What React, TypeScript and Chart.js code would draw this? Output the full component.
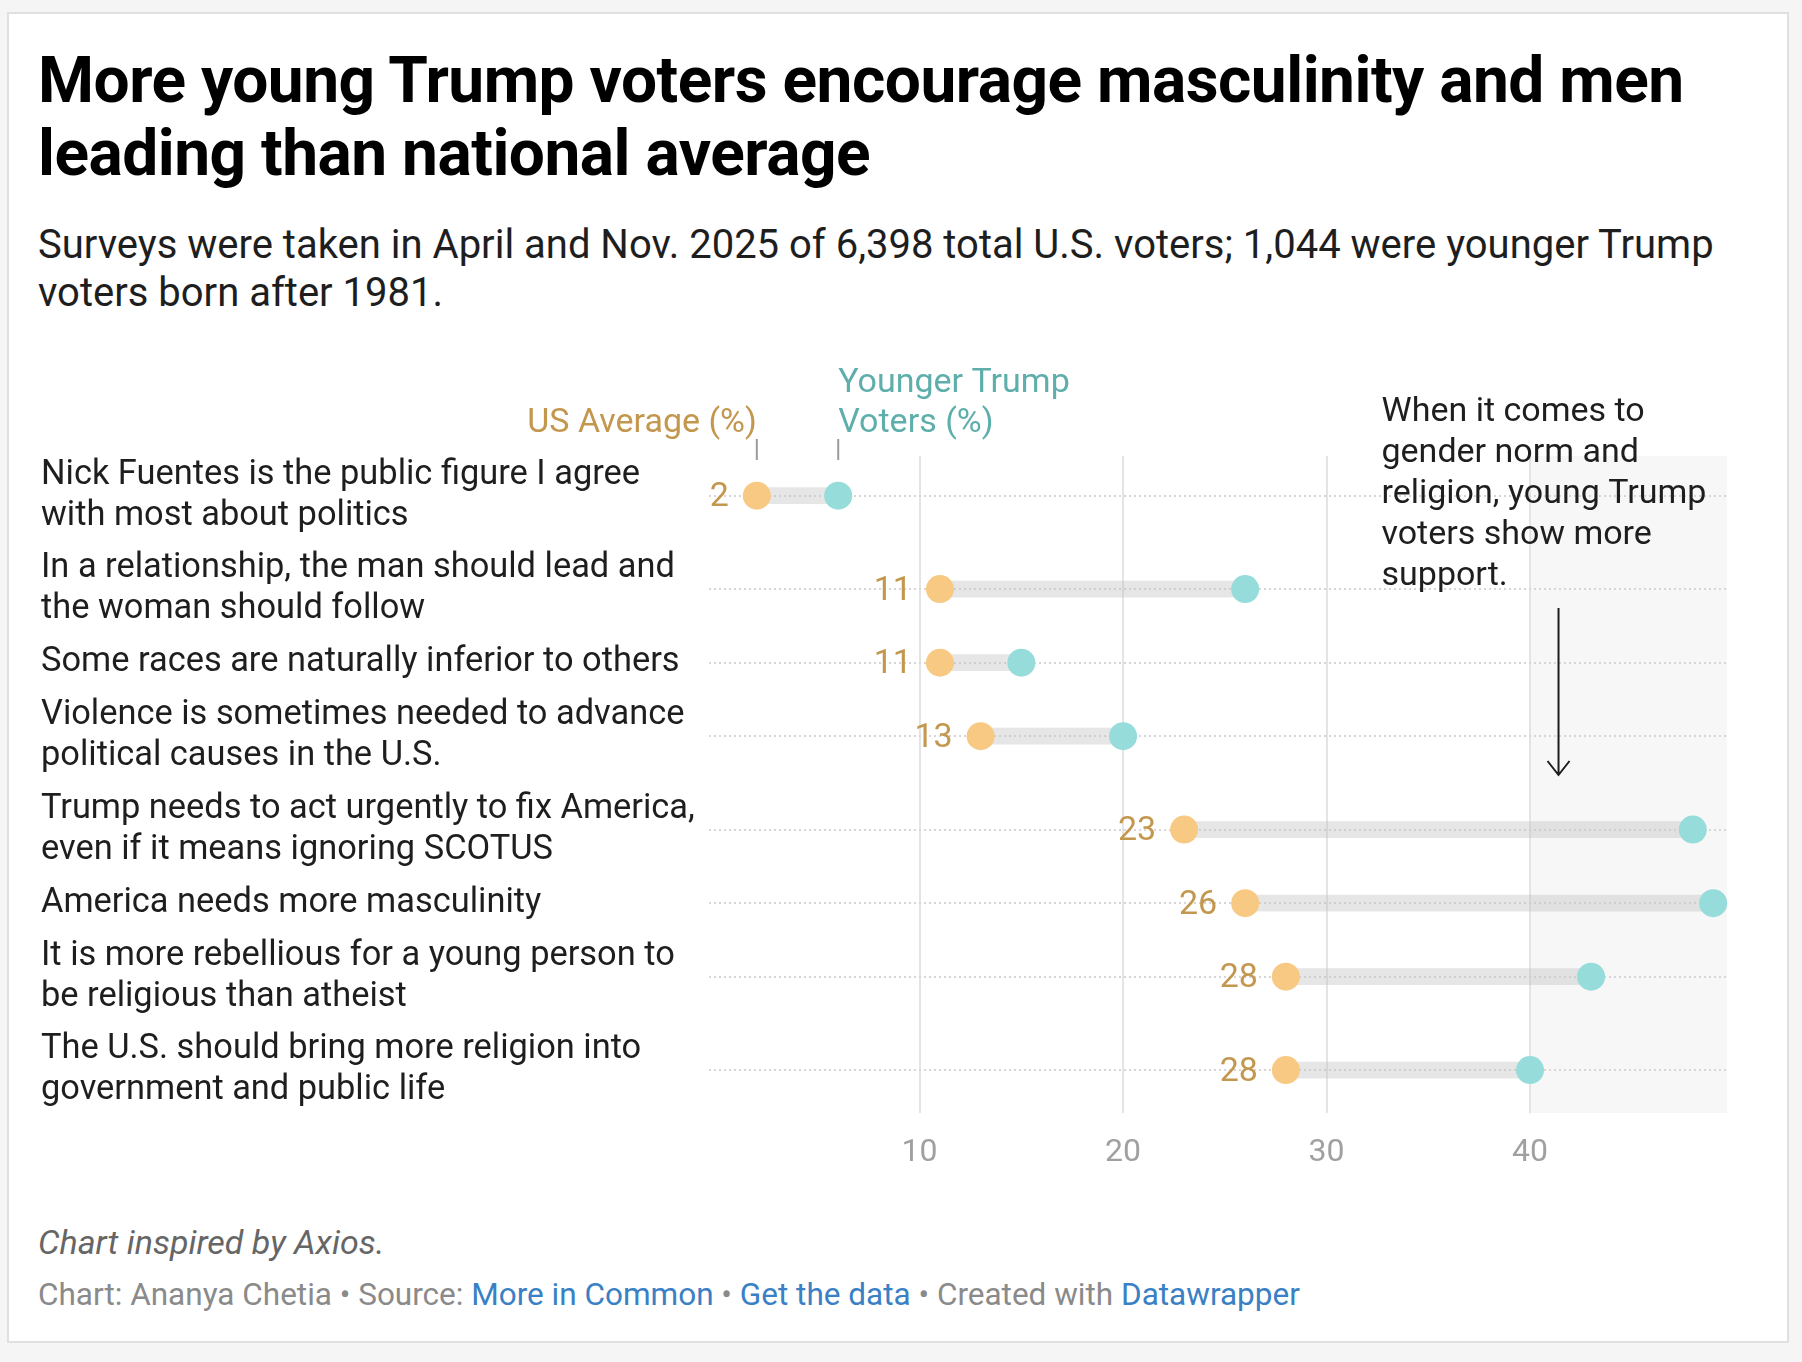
import { useEffect, useRef } from "react";
import { Chart, registerables } from "chart.js";

Chart.register(...registerables);

// ---------------- data ----------------
const categories: string[][] = [
  ["Nick Fuentes is the public figure I agree", "with most about politics"],
  ["In a relationship, the man should lead and", "the woman should follow"],
  ["Some races are naturally inferior to others"],
  ["Violence is sometimes needed to advance", "political causes in the U.S."],
  ["Trump needs to act urgently to fix America,", "even if it means ignoring SCOTUS"],
  ["America needs more masculinity"],
  ["It is more rebellious for a young person to", "be religious than atheist"],
  ["The U.S. should bring more religion into", "government and public life"],
];
const usAverage = [2, 11, 11, 13, 23, 26, 28, 28];
const youngerTrump = [6, 26, 15, 20, 48, 49, 43, 40];
const xTicks = [10, 20, 30, 40];
const seriesUS = "US Average (%)";
const seriesYoung = ["Younger Trump", "Voters (%)"];
const annotationLines = [
  "When it comes to",
  "gender norm and",
  "religion, young Trump",
  "voters show more",
  "support.",
];

// ---------------- layout (derived from label line counts) ----------------
const LINE_UNIT = 39.7;
const ROW_PAD = 14;
const rowCenters: number[] = [];
let acc = 0;
categories.forEach((lines) => {
  const h = lines.length * LINE_UNIT + ROW_PAD;
  rowCenters.push(acc + h / 2);
  acc += h;
});
const Y_MIN = 7;
const Y_MAX = Y_MIN + 657;

const FONT = "Roboto, 'Noto Sans', sans-serif";
const GOLD_TEXT = "#c3974e";
const TEAL_TEXT = "#5eaeab";
const ORANGE_DOT = "#f8c983";
const TEAL_DOT = "#95dcdb";
const BODY_SIZE = 34;
const LABEL_SIZE = 34.4;

const overlayPlugin = {
  id: "overlay",
  beforeDraw(chart: any) {
    const { ctx, chartArea, scales } = chart;
    const x40 = scales.x.getPixelForValue(40);
    ctx.save();
    ctx.fillStyle = "#f7f7f7";
    ctx.fillRect(x40, chartArea.top, chartArea.right - x40, chartArea.bottom - chartArea.top);
    ctx.restore();
  },
  afterDatasetsDraw(chart: any) {
    const { ctx, chartArea, scales } = chart;
    const xs = scales.x;
    const ys = scales.y;
    const usMeta = chart.getDatasetMeta(1);
    const yMeta = chart.getDatasetMeta(2);
    ctx.save();
    // value labels for US average
    ctx.font = `${BODY_SIZE}px ${FONT}`;
    ctx.fillStyle = GOLD_TEXT;
    ctx.textAlign = "right";
    ctx.textBaseline = "middle";
    usMeta.data.forEach((pt: any, i: number) => {
      ctx.fillText(String(usAverage[i]), pt.x - 28, pt.y + 2);
    });
    // series headers above first row
    const p0 = usMeta.data[0];
    const p1 = yMeta.data[0];
    const top = chartArea.top;
    ctx.textBaseline = "alphabetic";
    ctx.textAlign = "right";
    ctx.fillStyle = GOLD_TEXT;
    ctx.fillText(seriesUS, p0.x, top - 24);
    ctx.textAlign = "left";
    ctx.fillStyle = TEAL_TEXT;
    seriesYoung.forEach((t, i) => {
      ctx.fillText(t, p1.x, top - 64 + i * 40);
    });
    ctx.strokeStyle = "#9b9b9b";
    ctx.lineWidth = 2;
    [p0.x, p1.x].forEach((x) => {
      ctx.beginPath();
      ctx.moveTo(x, top - 17);
      ctx.lineTo(x, top + 4);
      ctx.stroke();
    });
    // annotation
    ctx.font = `${BODY_SIZE}px ${FONT}`;
    ctx.fillStyle = "#1e1e1e";
    ctx.textAlign = "left";
    const ax = xs.getPixelForValue(32.7);
    const ay = ys.getPixelForValue(-28);
    annotationLines.forEach((t, i) => ctx.fillText(t, ax, ay + i * 41));
    const arX = xs.getPixelForValue(41.4);
    const arTop = ys.getPixelForValue(159);
    const arBot = ys.getPixelForValue(326);
    ctx.strokeStyle = "#1e1e1e";
    ctx.lineWidth = 2;
    ctx.beginPath();
    ctx.moveTo(arX, arTop);
    ctx.lineTo(arX, arBot);
    ctx.moveTo(arX - 11, arBot - 14);
    ctx.lineTo(arX, arBot);
    ctx.lineTo(arX + 11, arBot - 14);
    ctx.stroke();
    ctx.restore();
  },
};

function DumbbellChart() {
  const ref = useRef<HTMLCanvasElement | null>(null);
  useEffect(() => {
    let chart: Chart | null = null;
    let cancelled = false;
    const make = () => {
      if (cancelled || !ref.current) return;
      chart = new Chart(ref.current, {
        type: "scatter",
        data: {
          datasets: [
            {
              type: "bar",
              indexAxis: "y",
              data: categories.map((_, i) => ({
                y: rowCenters[i],
                x: [usAverage[i], youngerTrump[i]],
              })),
              backgroundColor: "rgba(195,195,195,0.42)",
              borderWidth: 0,
              borderSkipped: false,
              barThickness: 16,
              order: 3,
              clip: false,
            } as any,
            {
              data: usAverage.map((v, i) => ({ x: v, y: rowCenters[i] })),
              pointRadius: 14,
              pointHoverRadius: 14,
              backgroundColor: ORANGE_DOT,
              borderWidth: 0,
              order: 1,
              clip: false,
            },
            {
              data: youngerTrump.map((v, i) => ({ x: v, y: rowCenters[i] })),
              pointRadius: 14,
              pointHoverRadius: 14,
              backgroundColor: TEAL_DOT,
              borderWidth: 0,
              order: 2,
              clip: false,
            },
          ],
        },
        options: {
          animation: false,
          responsive: false,
          maintainAspectRatio: false,
          devicePixelRatio: 1,
          events: [],
          layout: { padding: { left: 41, right: 75, top: 126, bottom: 27 } },
          plugins: { legend: { display: false }, tooltip: { enabled: false } },
          scales: {
            x: {
              type: "linear",
              offset: false,
              min: -0.35,
              max: 49.68,
              afterBuildTicks: (s: any) => {
                s.ticks = xTicks.map((v) => ({ value: v }));
              },
              afterFit: (s: any) => {
                s.height = 60;
              },
              ticks: {
                autoSkip: false,
                color: "#a0a0a0",
                font: { family: FONT, size: 32 },
                padding: 21,
              },
              grid: { offset: false, color: "#e4e4e4", lineWidth: 2, drawTicks: false },
              border: { display: false },
            },
            y: {
              type: "linear",
              offset: false,
              reverse: true,
              min: Y_MIN,
              max: Y_MAX,
              afterBuildTicks: (s: any) => {
                s.ticks = rowCenters.map((v) => ({ value: v }));
              },
              afterFit: (s: any) => {
                s.width = 668;
              },
              ticks: {
                autoSkip: false,
                crossAlign: "far",
                padding: 0,
                color: "#1e1e1e",
                font: { family: FONT, size: LABEL_SIZE, lineHeight: 41 / LABEL_SIZE },
                callback: (_v: any, i: number) => categories[i],
              },
              grid: { offset: false, color: "#d6d6d6", lineWidth: 2, drawTicks: false },
              border: { display: false, dash: [2, 3] },
            },
          },
        },
        plugins: [overlayPlugin],
      } as any);
    };
    const fonts: any = (document as any).fonts;
    if (fonts && fonts.load) {
      Promise.all([fonts.load(`32px Roboto`), fonts.load(`bold 32px Roboto`)])
        .catch(() => null)
        .then(make);
    } else {
      make();
    }
    return () => {
      cancelled = true;
      if (chart) chart.destroy();
    };
  }, []);
  return (
    <canvas
      ref={ref}
      width={1802}
      height={870}
      style={{ position: "absolute", left: 0, top: 330, width: 1802, height: 870, display: "block" }}
    />
  );
}

export default function App() {
  useEffect(() => {
    document.body.style.margin = "0";
    document.body.style.background = "#f5f5f5";
  }, []);
  const link = { color: "#3a80c5" };
  return (
    <div
      style={{
        position: "relative",
        width: 1802,
        height: 1362,
        background: "#f5f5f5",
        fontFamily: FONT,
        overflow: "hidden",
      }}
    >
      <div
        style={{
          position: "absolute",
          left: 7,
          top: 12,
          width: 1782,
          height: 1331,
          background: "#fff",
          border: "2px solid #e0e0e0",
          boxSizing: "border-box",
        }}
      />
      <div
        style={{
          position: "absolute",
          left: 38,
          top: 44,
          fontSize: 64,
          lineHeight: "73px",
          fontWeight: 700,
          color: "#000",
          whiteSpace: "nowrap",
          letterSpacing: "-0.5px",
        }}
      >
        More young Trump voters encourage masculinity and men
        <br />
        leading than national average
      </div>
      <div
        style={{
          position: "absolute",
          left: 38,
          top: 221,
          fontSize: 40,
          lineHeight: "48px",
          color: "#1e1e1e",
          whiteSpace: "nowrap",
        }}
      >
        Surveys were taken in April and Nov. 2025 of 6,398 total U.S. voters; 1,044 were younger Trump
        <br />
        voters born after 1981.
      </div>
      <DumbbellChart />
      <div
        style={{
          position: "absolute",
          left: 38,
          top: 1222,
          fontSize: 34,
          lineHeight: "40px",
          fontStyle: "italic",
          color: "#666",
          whiteSpace: "nowrap",
        }}
      >
        Chart inspired by Axios.
      </div>
      <div
        style={{
          position: "absolute",
          left: 38,
          top: 1275,
          fontSize: 31.5,
          lineHeight: "40px",
          color: "#8a8a8a",
          whiteSpace: "nowrap",
        }}
      >
        Chart: Ananya Chetia • Source: <span style={link}>More in Common</span> •{" "}
        <span style={link}>Get the data</span> • Created with <span style={link}>Datawrapper</span>
      </div>
    </div>
  );
}
